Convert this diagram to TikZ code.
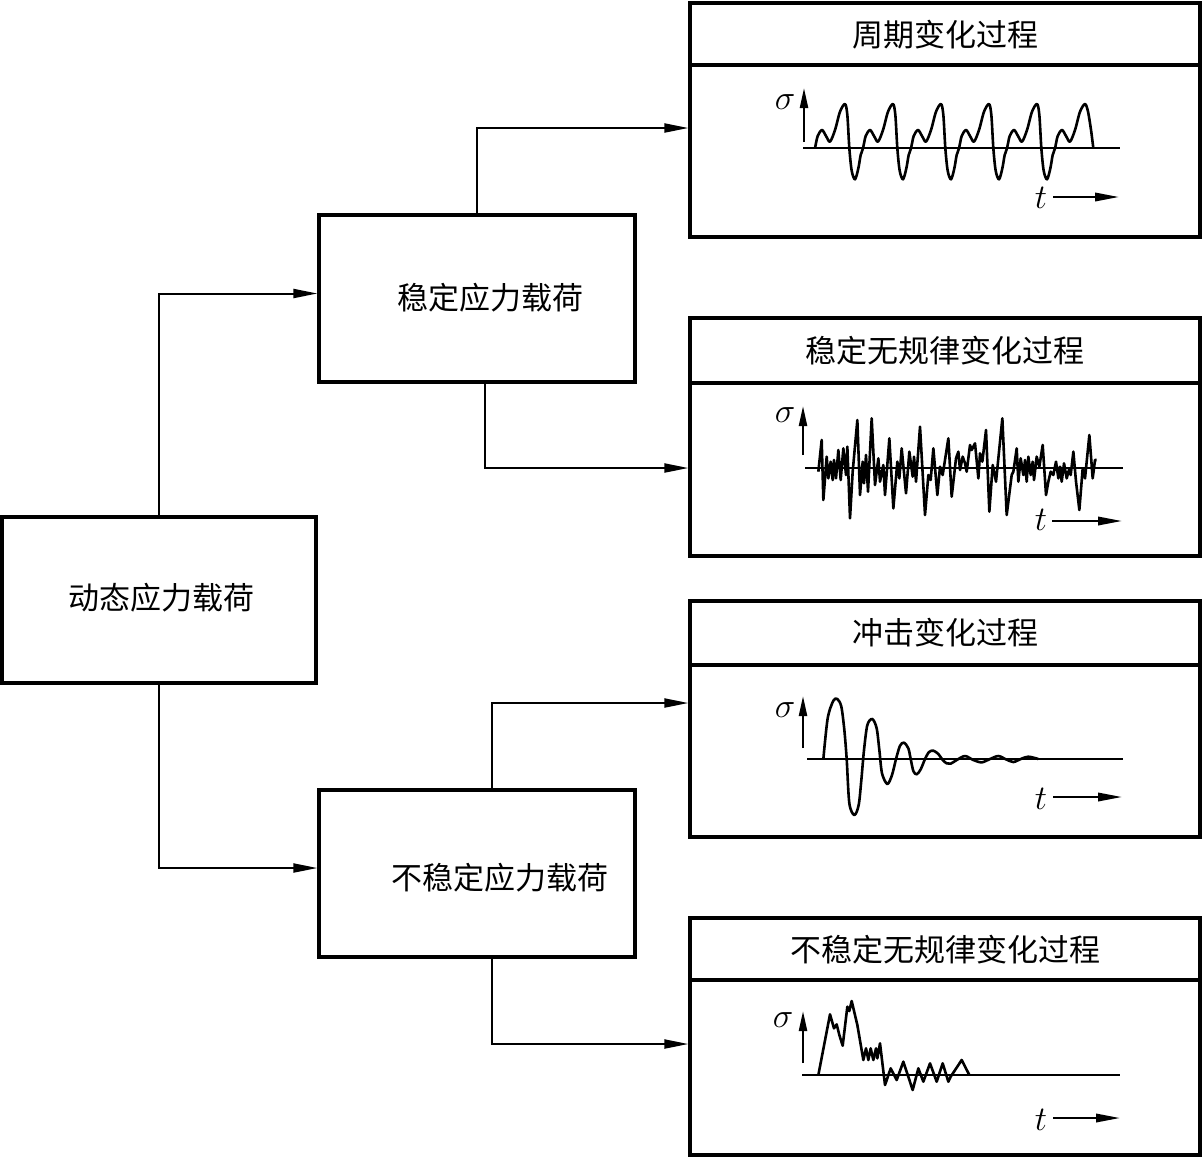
\documentclass[tikz,border=0pt]{standalone}
\usepackage{fontspec}
\newfontfamily\cjk{Noto Sans CJK SC}
\usetikzlibrary{arrows.meta}
\begin{document}
\begin{tikzpicture}[x=0.5pt,y=-0.5pt,
  box/.style={draw, line width=1.6pt, inner sep=0pt},
  lab/.style={inner sep=0pt, font=\cjk\fontsize{15.5}{18}\selectfont},
  conn/.style={line width=1pt, -{Triangle[length=12pt,width=4.5pt]}},
  sax/.style={line width=1.1pt, -{Triangle[length=10pt,width=4pt]}},
  tax/.style={line width=1.1pt, -{Triangle[length=12pt,width=4.2pt]}},
  base/.style={line width=1.1pt},
  wave/.style={line width=1.3pt, line join=round},
  sym/.style={inner sep=0pt, font=\fontsize{17}{20}\selectfont}]
\useasboundingbox (0,0) rectangle (1203,1158);
% main boxes
\node[box, minimum width=157pt, minimum height=83pt] (A) at (159,600) {};
\node[box, minimum width=158pt, minimum height=83.5pt] (B) at (477,298.5) {};
\node[box, minimum width=158pt, minimum height=83.5pt] (C) at (477,873.5) {};
\node[lab] (Al) at (161,598) {动态应力载荷};
\node[lab] (Bl) at (490,298) {稳定应力载荷};
\node[lab] (Cl) at (500,878) {不稳定应力载荷};
% panels
\node[box, minimum width=255pt, minimum height=117pt] (p1) at (945,120) {};
\node[box, minimum width=255pt, minimum height=119pt] (p2) at (945,437) {};
\node[box, minimum width=255pt, minimum height=118pt] (p3) at (945,719) {};
\node[box, minimum width=255pt, minimum height=118.5pt] (p4) at (945,1036.5) {};
\draw[line width=1.6pt] (p1.west |- 0,65) -- (p1.east |- 0,65);
\draw[line width=1.6pt] (p2.west |- 0,383) -- (p2.east |- 0,383);
\draw[line width=1.6pt] (p3.west |- 0,665) -- (p3.east |- 0,665);
\draw[line width=1.6pt] (p4.west |- 0,980) -- (p4.east |- 0,980);
\node[lab] (t1) at (945,35) {周期变化过程};
\node[lab] (t2) at (945,351) {稳定无规律变化过程};
\node[lab] (t3) at (945,633) {冲击变化过程};
\node[lab] (t4) at (945,950) {不稳定无规律变化过程};
% connectors
\draw[conn] (A.north) |- ([yshift=2.5pt]B.west);
\draw[conn] (A.south) |- ([yshift=2.75pt]C.west);
\draw[conn] (B.north) |- ([yshift=-4pt]p1.west);
\draw[conn] ([xshift=4pt]B.south) |- ([yshift=-15.5pt]p2.west);
\draw[conn] ([xshift=7.5pt]C.north) |- ([yshift=8pt]p3.west);
\draw[conn] ([xshift=7.5pt]C.south) |- ([yshift=-3.75pt]p4.west);
% axes panel 1
\draw[sax] (804,142) -- (804,88);
\draw[base] (803,148) -- (1120,148);
\node[sym] (s1) at (785,102) {$\sigma$};
\node[sym] (u1) at (1041,198) {$t$};
\draw[tax] (1053,197) -- (1119,197);
% axes panel 2
\draw[sax] (803,455) -- (803,406);
\draw[base] (805,468) -- (1123,468);
\node[sym] (s2) at (785,415) {$\sigma$};
\node[sym] (u2) at (1041,520) {$t$};
\draw[tax] (1052,521) -- (1122,521);
% axes panel 3
\draw[sax] (803,748) -- (803,696);
\draw[base] (807,759) -- (1123,759);
\node[sym] (s3) at (785,710) {$\sigma$};
\node[sym] (u3) at (1041,799) {$t$};
\draw[tax] (1053,797) -- (1122,797);
% axes panel 4
\draw[sax] (803,1063) -- (803,1011);
\draw[base] (802,1075) -- (1120,1075);
\node[sym] (s4) at (783,1020) {$\sigma$};
\node[sym] (u4) at (1041,1120) {$t$};
\draw[tax] (1053,1118) -- (1120,1118);
% wave 1 (periodic)
\gdef\wl{}
\foreach \k in {0,...,4}{%
  \xdef\wl{\wl (\the\numexpr\k*144+165\relax,205) (\the\numexpr\k*144+173\relax,168)
   (\the\numexpr\k*144+186\relax,150) (\the\numexpr\k*144+198\relax,168)
   (\the\numexpr\k*144+210\relax,185) (\the\numexpr\k*144+225\relax,150)
   (\the\numexpr\k*144+240\relax,95) (\the\numexpr\k*144+255\relax,72)
   (\the\numexpr\k*144+262\relax,105) (\the\numexpr\k*144+268\relax,205)
   (\the\numexpr\k*144+275\relax,272) (\the\numexpr\k*144+285\relax,298)
   (\the\numexpr\k*144+295\relax,265) (\the\numexpr\k*144+302\relax,225)}%
}
\xdef\wl{\wl (885,205) (893,168) (906,150) (918,168) (930,185) (945,150) (960,95) (975,72) (984,95) (993,150) (1000,205)}
\begin{scope}[xshift=380pt, yshift=-40pt, x=0.166667pt, y=-0.166667pt]
\edef\tmp{\noexpand\draw[wave] plot[smooth] coordinates {\wl};}\tmp
\end{scope}
% wave 2 (random)
\begin{scope}[xshift=380pt, yshift=-197.5pt, x=0.166667pt, y=-0.166667pt]
\draw[wave] plot coordinates {(175,230) (185,135) (190,315) (200,185) (205,250) (212,200) (218,255) (222,195) (228,250) (235,165) (242,255) (250,160) (258,240) (262,155) (270,370) (278,230) (292,75) (300,300) (308,200) (312,265) (318,180) (324,290) (335,70) (345,270) (355,190) (360,260) (370,210) (375,300) (388,130) (400,340) (412,200) (418,250) (425,160) (438,295) (448,170) (458,245) (462,185) (468,260) (480,95) (495,360) (505,240) (512,255) (520,160) (532,300) (540,215) (548,240) (565,130) (575,305) (588,190) (595,170) (600,225) (608,185) (615,205) (620,230) (630,150) (635,165) (645,145) (655,250) (660,175) (667,200) (678,105) (688,350) (698,210) (708,260) (727,70) (740,360) (755,240) (760,230) (770,160) (775,260) (782,190) (790,240) (795,195) (800,260) (805,185) (812,240) (818,200) (822,255) (830,185) (838,215) (848,150) (858,300) (865,260) (872,230) (880,240) (888,200) (895,250) (900,215) (905,260) (912,205) (920,250) (928,220) (932,240) (940,170) (948,260) (958,345) (968,220) (975,250) (988,120) (998,250) (1005,195) (1010,195)};
\end{scope}
% wave 3 (impact)
\begin{scope}[xshift=380pt, yshift=-340pt, x=0.166667pt, y=-0.166667pt]
\draw[wave] plot[smooth] coordinates {(190,237) (203,115) (220,62) (232,57) (244,80) (253,150) (260,237) (268,370) (283,405) (296,375) (304,300) (312,210) (322,135) (337,117) (350,145) (358,210) (366,280) (382,312) (396,285) (408,237) (420,197) (432,188) (445,205) (452,237) (460,273) (470,283) (482,268) (495,237) (507,216) (520,212) (535,222) (548,240) (560,250) (572,251) (590,240) (615,228) (640,240) (665,247) (690,237) (715,228) (738,238) (760,246) (782,237) (805,230) (835,237)};
\end{scope}
% wave 4 (unsteady)
\begin{scope}[xshift=380pt, yshift=-497.5pt, x=0.166667pt, y=-0.166667pt]
\draw[wave] plot coordinates {(175,240) (210,58) (222,100) (230,88) (238,120) (248,152) (262,35) (268,48) (275,18) (292,90) (310,195) (318,160) (325,195) (332,160) (340,195) (348,160) (352,190) (360,145) (375,270) (392,220) (410,255) (430,200) (458,285) (475,220) (490,260) (510,205) (530,260) (548,205) (565,260) (572,245) (605,195) (628,240)};
\end{scope}
\end{tikzpicture}
\end{document}
